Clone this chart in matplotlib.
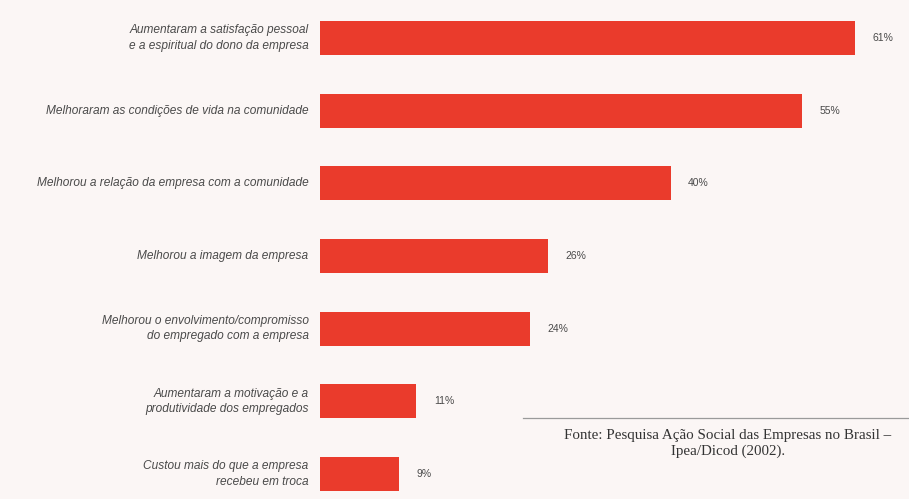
import matplotlib

matplotlib.use("Agg")
from matplotlib import pyplot as plt

categories = [
    "Aumentaram a satisfação pessoal\ne a espiritual do dono da empresa",
    "Melhoraram as condições de vida na comunidade",
    "Melhorou a relação da empresa com a comunidade",
    "Melhorou a imagem da empresa",
    "Melhorou o envolvimento/compromisso\ndo empregado com a empresa",
    "Aumentaram a motivação e a\nprodutividade dos empregados",
    "Custou mais do que a empresa\nrecebeu em troca",
]
percentages = [61, 55, 40, 26, 24, 11, 9]
source_lines = [
    "Fonte: Pesquisa Ação Social das Empresas no Brasil –",
    "Ipea/Dicod (2002).",
]

background = "#fbf6f5"
bar_color = "#ea3b2c"
label_color = "#4a4a4a"

fig = plt.figure(figsize=(9.09, 4.99), dpi=100, facecolor=background)
ax = fig.add_axes([320 / 909, 0, 1 - 320 / 909, 1])
ax.set_facecolor(background)

positions = list(range(len(categories)))
ax.barh(positions, percentages, height=0.47, color=bar_color, edgecolor="none")
ax.set_xlim(0, 67.2)
ax.set_ylim(6.344, -0.523)
ax.axis("off")

for pos, label, value in zip(positions, categories, percentages):
    ax.text(-1.3, pos, label, ha="right", va="center", style="italic",
            family="Liberation Sans", fontsize=8.6, color=label_color,
            linespacing=1.4)
    ax.text(value + 2.0, pos, f"{value}%", ha="left", va="center",
            family="Liberation Sans", fontsize=7.5, color=label_color)

# rule above the source note, then the note itself line by line
fig.add_artist(plt.Line2D([523 / 909, 1], [1 - 418 / 499, 1 - 418 / 499],
                          color="#9a9a9a", linewidth=0.9))
for baseline_px, line in zip([439, 455], source_lines):
    fig.text(728 / 909, 1 - baseline_px / 499, line, ha="center", va="baseline",
             family="Liberation Serif", fontsize=10.8, color="#333333")

fig.savefig("out.png", dpi=100, facecolor=background)
